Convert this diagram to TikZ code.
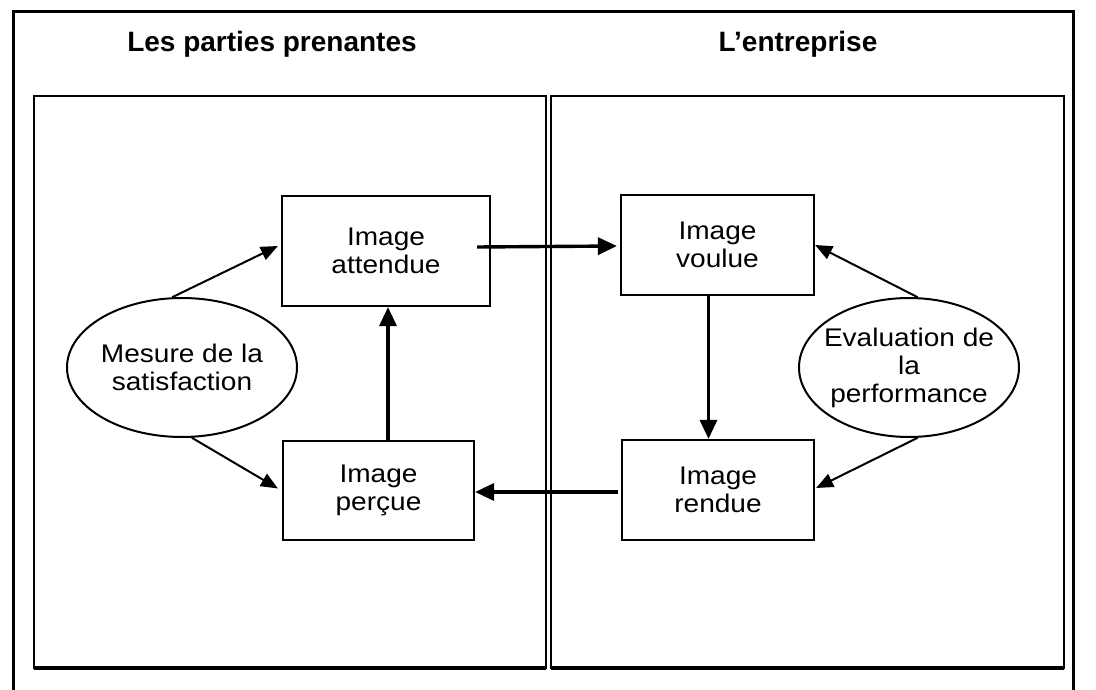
\documentclass[tikz,border=0pt]{standalone}
\usepackage{fontspec}
\setmainfont{Liberation Sans}
\newfontfamily\boxfont[FakeStretch=1.1]{Liberation Sans}
\usetikzlibrary{shapes.geometric,arrows.meta,calc}
\newcommand\mytxt{\fontsize{25.5}{28}\boxfont}
\begin{document}
\begin{tikzpicture}[x=1pt,y=-1pt,
  imgbox/.style={draw, line width=2.2pt, rectangle, inner sep=0pt, align=center, font=\mytxt},
  oval/.style={draw, line width=2pt, ellipse, inner xsep=-12pt, inner ysep=0pt, align=center, font=\mytxt},
  title/.style={font=\fontsize{28}{30}\selectfont\bfseries, anchor=base},
  thin/.style={line width=2pt, -{Triangle[length=17pt,width=14pt]}},
  thick/.style={line width=3.4pt, -{Triangle[length=19pt,width=17pt]}},
  panel/.style={line width=2pt}
]
\useasboundingbox (0,0) rectangle (1096,690);
\fill[white] (0,0) rectangle (1096,690);
% outer frame
\draw[line width=3pt] (13,695) -- (13,12) -- (1073,12) -- (1073,695);
% panels
\draw[panel] (34,96) rectangle (546,668);
\draw[panel] (551,96) rectangle (1064,668);
\draw[line width=3.2pt] (34,668) -- (546,668);
\draw[line width=3.2pt] (551,668) -- (1064,668);
% titles
\node[title] (t1) at (272,52) {Les parties prenantes};
\node[title] (t2) at (798,52) {L’entreprise};
% boxes
\node[imgbox, minimum width=208pt, minimum height=110pt] (att) at (386,251) {Image\\attendue};
\node[imgbox, minimum width=191pt, minimum height=99pt] (per) at (378.5,490.5) {Image\\perçue};
\node[imgbox, minimum width=193pt, minimum height=100pt] (vou) at (717.5,245) {Image\\voulue};
\node[imgbox, minimum width=192pt, minimum height=100pt] (ren) at (718,490) {Image\\rendue};
% ellipses
\node[oval, minimum width=230pt, minimum height=139pt] (mes) at (182,367.5) {Mesure de la\\satisfaction};
\node[oval, minimum width=220pt, minimum height=139pt] (eva) at (909,367.5) {Evaluation de\\la\\performance};
% connector helper points
\coordinate (p1) at ($(per.north)+(9.5,0)$);
\coordinate (p2) at ($(vou.south)+(-9,0)$);
% connectors
\draw[thin] (mes.98) -- ($(att.west)+(-3,-5)$);
\draw[thin] (mes.-82) -- ($(per.west)+(-4,-2)$);
\draw[thick] (p1) -- (p1 |- att.south);
\draw[thick] ($(att.east)+(-14,-4)$) -- ($(vou.west)+(-3,1)$);
\draw[thick] (p2) -- (p2 |- ren.north);
\draw[thick] ($(ren.west)+(-3,2)$) -- ($(per.east)+(0,1.5)$);
\draw[thin] (eva.83) -- (vou.east);
\draw[thin] (eva.-83) -- ($(ren.east)+(1,-2)$);
\end{tikzpicture}
\end{document}
